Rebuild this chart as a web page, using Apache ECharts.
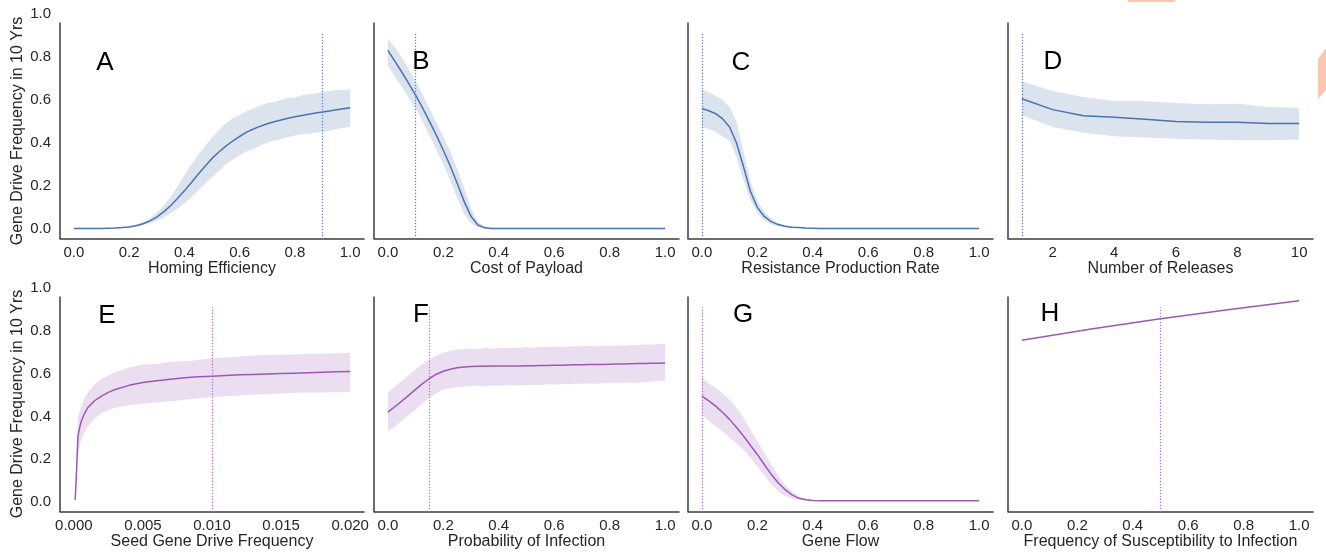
<!DOCTYPE html>
<html><head><meta charset="utf-8">
<script src="https://cdn.jsdelivr.net/npm/echarts@6/dist/echarts.min.js"></script>
<style>html,body{margin:0;padding:0;background:#fff}#c{width:1326px;height:557px}</style>
</head><body><div id="c"></div>
<script>
// ---------------- DATA ----------------
const x01 = [0,0.025,0.05,0.075,0.1,0.125,0.15,0.175,0.2,0.225,0.25,0.275,0.3,0.325,0.35,0.375,0.4,0.425,0.45,0.475,0.5,0.525,0.55,0.575,0.6,0.625,0.65,0.675,0.7,0.725,0.75,0.775,0.8,0.825,0.85,0.875,0.9,0.925,0.95,0.975,1.0];

const meanA = [0.002,0.002,0.002,0.002,0.002,0.003,0.004,0.006,0.009,0.015,0.024,0.037,0.055,0.079,0.108,0.141,0.177,0.215,0.254,0.292,0.328,0.358,0.385,0.409,0.430,0.450,0.465,0.478,0.489,0.499,0.507,0.515,0.522,0.528,0.534,0.539,0.544,0.549,0.554,0.559,0.564];
const highA = [0.003,0.003,0.003,0.003,0.003,0.004,0.005,0.008,0.012,0.020,0.032,0.050,0.075,0.108,0.148,0.196,0.250,0.300,0.345,0.385,0.425,0.460,0.490,0.515,0.530,0.548,0.560,0.575,0.585,0.590,0.600,0.610,0.612,0.622,0.628,0.630,0.638,0.640,0.648,0.645,0.650];
const lowA  = [0.001,0.001,0.001,0.001,0.001,0.002,0.003,0.004,0.007,0.011,0.017,0.026,0.038,0.053,0.072,0.094,0.118,0.147,0.178,0.210,0.240,0.270,0.300,0.322,0.342,0.360,0.372,0.388,0.402,0.410,0.418,0.428,0.435,0.440,0.443,0.448,0.450,0.458,0.465,0.470,0.475];

const meanB = [0.831,0.781,0.730,0.677,0.623,0.563,0.500,0.435,0.366,0.293,0.212,0.128,0.058,0.018,0.005,0.002,0.002,0.002,0.002,0.002,0.002,0.002,0.002,0.002,0.002,0.002,0.002,0.002,0.002,0.002,0.002,0.002,0.002,0.002,0.002,0.002,0.002,0.002,0.002,0.002,0.002];
const highB = [0.885,0.845,0.800,0.745,0.690,0.625,0.560,0.495,0.430,0.360,0.280,0.190,0.095,0.032,0.009,0.003,0.003,0.003,0.003,0.003,0.003,0.003,0.003,0.003,0.003,0.003,0.003,0.003,0.003,0.003,0.003,0.003,0.003,0.003,0.003,0.003,0.003,0.003,0.003,0.003,0.003];
const lowB  = [0.760,0.710,0.660,0.610,0.560,0.500,0.435,0.368,0.300,0.225,0.145,0.070,0.025,0.006,0.001,0.001,0.001,0.001,0.001,0.001,0.001,0.001,0.001,0.001,0.001,0.001,0.001,0.001,0.001,0.001,0.001,0.001,0.001,0.001,0.001,0.001,0.001,0.001,0.001,0.001,0.001];

const meanC = [0.560,0.550,0.536,0.512,0.474,0.400,0.290,0.175,0.100,0.058,0.034,0.020,0.012,0.008,0.006,0.004,0.003,0.002,0.002,0.002,0.002,0.002,0.002,0.002,0.002,0.002,0.002,0.002,0.002,0.002,0.002,0.002,0.002,0.002,0.002,0.002,0.002,0.002,0.002,0.002,0.002];
const highC = [0.648,0.635,0.620,0.600,0.567,0.500,0.360,0.220,0.130,0.080,0.048,0.028,0.017,0.011,0.008,0.005,0.004,0.003,0.003,0.003,0.003,0.003,0.003,0.003,0.003,0.003,0.003,0.003,0.003,0.003,0.003,0.003,0.003,0.003,0.003,0.003,0.003,0.003,0.003,0.003,0.003];
const lowC  = [0.474,0.465,0.451,0.430,0.410,0.335,0.226,0.133,0.075,0.040,0.022,0.013,0.008,0.005,0.004,0.003,0.002,0.001,0.001,0.001,0.001,0.001,0.001,0.001,0.001,0.001,0.001,0.001,0.001,0.001,0.001,0.001,0.001,0.001,0.001,0.001,0.001,0.001,0.001,0.001,0.001];

const xD    = [1,2,3,4,5,6,7,8,9,10];
const meanD = [0.606,0.555,0.527,0.519,0.510,0.500,0.496,0.496,0.490,0.490];
const highD = [0.687,0.642,0.614,0.595,0.594,0.586,0.580,0.582,0.567,0.564];
const lowD  = [0.529,0.474,0.447,0.431,0.425,0.419,0.416,0.412,0.412,0.416];

const xE    = [0.0001,0.0002,0.0003,0.0005,0.00075,0.001,0.0015,0.002,0.0025,0.003,0.004,0.005,0.006,0.007,0.008,0.009,0.010,0.011,0.012,0.013,0.014,0.015,0.016,0.017,0.018,0.019,0.020];
const meanE = [0.010,0.150,0.310,0.370,0.410,0.440,0.473,0.495,0.512,0.526,0.545,0.558,0.567,0.574,0.580,0.585,0.588,0.591,0.594,0.596,0.598,0.600,0.602,0.604,0.606,0.608,0.610];
const highE = [0.010,0.150,0.400,0.440,0.480,0.510,0.550,0.575,0.592,0.606,0.628,0.642,0.645,0.655,0.658,0.664,0.672,0.675,0.680,0.684,0.687,0.688,0.690,0.692,0.694,0.695,0.697];
const lowE  = [0.010,0.150,0.220,0.280,0.320,0.350,0.390,0.415,0.430,0.440,0.452,0.459,0.465,0.471,0.478,0.484,0.490,0.494,0.497,0.502,0.505,0.507,0.510,0.511,0.512,0.513,0.514];

const meanF = [0.420,0.445,0.471,0.498,0.526,0.553,0.577,0.597,0.611,0.620,0.627,0.631,0.633,0.634,0.634,0.635,0.635,0.635,0.636,0.636,0.637,0.637,0.638,0.638,0.639,0.639,0.640,0.641,0.641,0.642,0.643,0.643,0.644,0.645,0.645,0.646,0.647,0.647,0.648,0.648,0.649];
const highF = [0.510,0.540,0.565,0.592,0.619,0.645,0.666,0.685,0.697,0.705,0.713,0.715,0.717,0.714,0.719,0.716,0.720,0.718,0.722,0.720,0.724,0.721,0.725,0.723,0.726,0.724,0.728,0.726,0.728,0.730,0.727,0.731,0.729,0.732,0.730,0.734,0.733,0.736,0.735,0.738,0.739];
const lowF  = [0.331,0.352,0.378,0.405,0.432,0.460,0.487,0.508,0.526,0.532,0.537,0.539,0.541,0.543,0.541,0.544,0.543,0.546,0.544,0.547,0.546,0.548,0.547,0.550,0.549,0.551,0.550,0.553,0.552,0.554,0.553,0.556,0.555,0.557,0.556,0.558,0.557,0.560,0.562,0.565,0.568];

const meanG = [0.495,0.472,0.448,0.418,0.386,0.348,0.308,0.265,0.222,0.175,0.129,0.090,0.058,0.033,0.017,0.010,0.007,0.005,0.005,0.005,0.005,0.005,0.005,0.005,0.005,0.005,0.005,0.005,0.005,0.005,0.005,0.005,0.005,0.005,0.005,0.005,0.005,0.005,0.005,0.005,0.005];
const highG = [0.580,0.555,0.533,0.507,0.478,0.440,0.393,0.340,0.284,0.230,0.175,0.125,0.082,0.050,0.027,0.015,0.009,0.006,0.006,0.006,0.006,0.006,0.006,0.006,0.006,0.006,0.006,0.006,0.006,0.006,0.006,0.006,0.006,0.006,0.006,0.006,0.006,0.006,0.006,0.006,0.006];
const lowG  = [0.410,0.380,0.354,0.328,0.300,0.272,0.245,0.205,0.167,0.125,0.082,0.050,0.027,0.016,0.010,0.007,0.005,0.004,0.004,0.004,0.004,0.004,0.004,0.004,0.004,0.004,0.004,0.004,0.004,0.004,0.004,0.004,0.004,0.004,0.004,0.004,0.004,0.004,0.004,0.004,0.004];

const xH    = [0,0.25,0.5,0.75,1.0];
const meanH = [0.756,0.808,0.856,0.899,0.940];

const refLines = [0.9, 0.1, 0.0, 1, 0.01, 0.15, 0.0, 0.5];
const letters  = ['A','B','C','D','E','F','G','H'];
const xNames   = ['Homing Efficiency','Cost of Payload','Resistance Production Rate','Number of Releases',
                  'Seed Gene Drive Frequency','Probability of Infection','Gene Flow','Frequency of Susceptibility to Infection'];
const yName    = 'Gene Drive Frequency in 10 Yrs';
const ticks01  = [0,0.2,0.4,0.6,0.8,1.0];
const ticksD   = [2,4,6,8,10];
const ticksE   = [0,0.005,0.01,0.015,0.02];
const ticksY   = [0,0.2,0.4,0.6,0.8,1.0];

// ---------------- STYLE / LAYOUT ----------------
const FONT = '"Liberation Sans", Arial, Helvetica, sans-serif';
const TXT = '#262626', SPINE = '#3c3c3c';
const BLUE = '#4c72b0', BLUE_BAND = 'rgba(76,114,176,0.2)', BLUE_DOT = '#5a7fd4';
const PURP = '#9b59b6', PURP_BAND = 'rgba(155,89,182,0.2)', PURP_DOT = '#b868dc';
const Y_MIN = -0.047, Y_MAX = 1.0, SPINE_TOP = 0.96, REF_TOP = 0.91;
const cols = [{left:60,width:304},{left:374,width:305},{left:688,width:305},{left:1008,width:305}];
const rows = [{top:14,height:225},{top:288,height:224}];

const panels = [
  {x:x01, m:meanA, hi:highA, lo:lowA, xr:[-0.05,1.05], ticks:ticks01, dec:1},
  {x:x01, m:meanB, hi:highB, lo:lowB, xr:[-0.05,1.05], ticks:ticks01, dec:1},
  {x:x01, m:meanC, hi:highC, lo:lowC, xr:[-0.05,1.05], ticks:ticks01, dec:1},
  {x:xD,  m:meanD, hi:highD, lo:lowD, xr:[0.55,10.45], ticks:ticksD,  dec:0},
  {x:xE,  m:meanE, hi:highE, lo:lowE, xr:[-0.001,0.021], ticks:ticksE, dec:3},
  {x:x01, m:meanF, hi:highF, lo:lowF, xr:[-0.05,1.05], ticks:ticks01, dec:1},
  {x:x01, m:meanG, hi:highG, lo:lowG, xr:[-0.05,1.05], ticks:ticks01, dec:1},
  {x:xH,  m:meanH, hi:null,  lo:null, xr:[-0.05,1.05], ticks:ticks01, dec:1}
];
const letterPos = [[105,63],[421,62],[741,63],[1053,62],[107,316],[421,315],[743,315],[1050,314]];

const grid = [], xAxis = [], yAxis = [], series = [], graphic = [];
panels.forEach((p, i) => {
  const r = rows[Math.floor(i / 4)], c = cols[i % 4];
  const top = i < 4;
  const lineColor = top ? BLUE : PURP, band = top ? BLUE_BAND : PURP_BAND, dot = top ? BLUE_DOT : PURP_DOT;
  grid.push({left:c.left, top:r.top, width:c.width, height:r.height, containLabel:false});
  xAxis.push({
    type:'value', gridIndex:i, min:p.xr[0], max:p.xr[1],
    axisLine:{show:true, onZero:false, lineStyle:{color:SPINE, width:1.5}},
    axisTick:{show:false}, splitLine:{show:false},
    axisLabel:{customValues:p.ticks, margin:6, color:TXT, fontSize:15, fontFamily:FONT,
               formatter:v => Number(v).toFixed(p.dec)},
    name:xNames[i], nameLocation:'middle', nameGap:21,
    nameTextStyle:{color:TXT, fontSize:16, fontFamily:FONT}
  });
  yAxis.push({
    type:'value', gridIndex:i, min:Y_MIN, max:Y_MAX,
    axisLine:{show:false}, axisTick:{show:false}, splitLine:{show:false},
    axisLabel:{show:(i % 4 === 0), customValues:ticksY, margin:9, color:TXT, fontSize:15, fontFamily:FONT,
               formatter:v => Number(v).toFixed(1)}
  });
  if (p.hi) {
    const xs = p.x, hi = p.hi, lo = p.lo;
    series.push({
      type:'custom', xAxisIndex:i, yAxisIndex:i, silent:true, z:1,
      data:[[xs[0], hi[0]]],
      renderItem:(params, api) => {
        const pts = [];
        for (let k = 0; k < xs.length; k++) pts.push(api.coord([xs[k], hi[k]]));
        for (let k = xs.length - 1; k >= 0; k--) pts.push(api.coord([xs[k], lo[k]]));
        return {type:'polygon', shape:{points:pts}, style:{fill:band, stroke:null}};
      }
    });
  }
  series.push({
    type:'line', xAxisIndex:i, yAxisIndex:i, z:3, clip:false,
    data:p.x.map((xv, k) => [xv, p.m[k]]),
    showSymbol:false, symbol:'none', smooth:false,
    lineStyle:{color:lineColor, width:1.5, join:'round'}, itemStyle:{color:lineColor},
    emphasis:{disabled:true},
    markLine:{
      silent:true, symbol:['none','none'], label:{show:false}, animation:false,
      emphasis:{disabled:true},
      data:[
        [{coord:[p.xr[0], Y_MIN], lineStyle:{color:SPINE, width:1.5, type:'solid'}},
         {coord:[p.xr[0], SPINE_TOP], lineStyle:{color:SPINE, width:1.5, type:'solid'}}],
        [{coord:[refLines[i], Y_MIN], lineStyle:{color:dot, width:1.2, type:[1.2,1.8]}},
         {coord:[refLines[i], REF_TOP], lineStyle:{color:dot, width:1.2, type:[1.2,1.8]}}]
      ]
    }
  });
  graphic.push({type:'text', x:letterPos[i][0], y:letterPos[i][1], z:10,
    style:{text:letters[i], fill:'#000', font:'26px ' + FONT, align:'center', verticalAlign:'middle'}});
});

graphic.push({type:'text', x:18, y:131, rotation:Math.PI/2,
  style:{text:yName, fill:TXT, font:'16px ' + FONT, align:'center', verticalAlign:'middle'}});
graphic.push({type:'text', x:18, y:404, rotation:Math.PI/2,
  style:{text:yName, fill:TXT, font:'16px ' + FONT, align:'center', verticalAlign:'middle'}});
// faint orange overlay shapes seen at the picture's top-right edge
graphic.push({type:'polygon', shape:{points:[[1127,0],[1176,0],[1174,2],[1129,2]]}, style:{fill:'#f9c8b0'}});
graphic.push({type:'polygon', shape:{points:[[1318,59],[1326,48],[1326,90],[1318,99]]}, style:{fill:'#f9c8b0'}});

const chart = echarts.init(document.getElementById('c'), null, {renderer:'canvas'});
chart.setOption({
  backgroundColor:'#ffffff', animation:false,
  textStyle:{fontFamily:FONT},
  grid, xAxis, yAxis, series, graphic
});
</script></body></html>
